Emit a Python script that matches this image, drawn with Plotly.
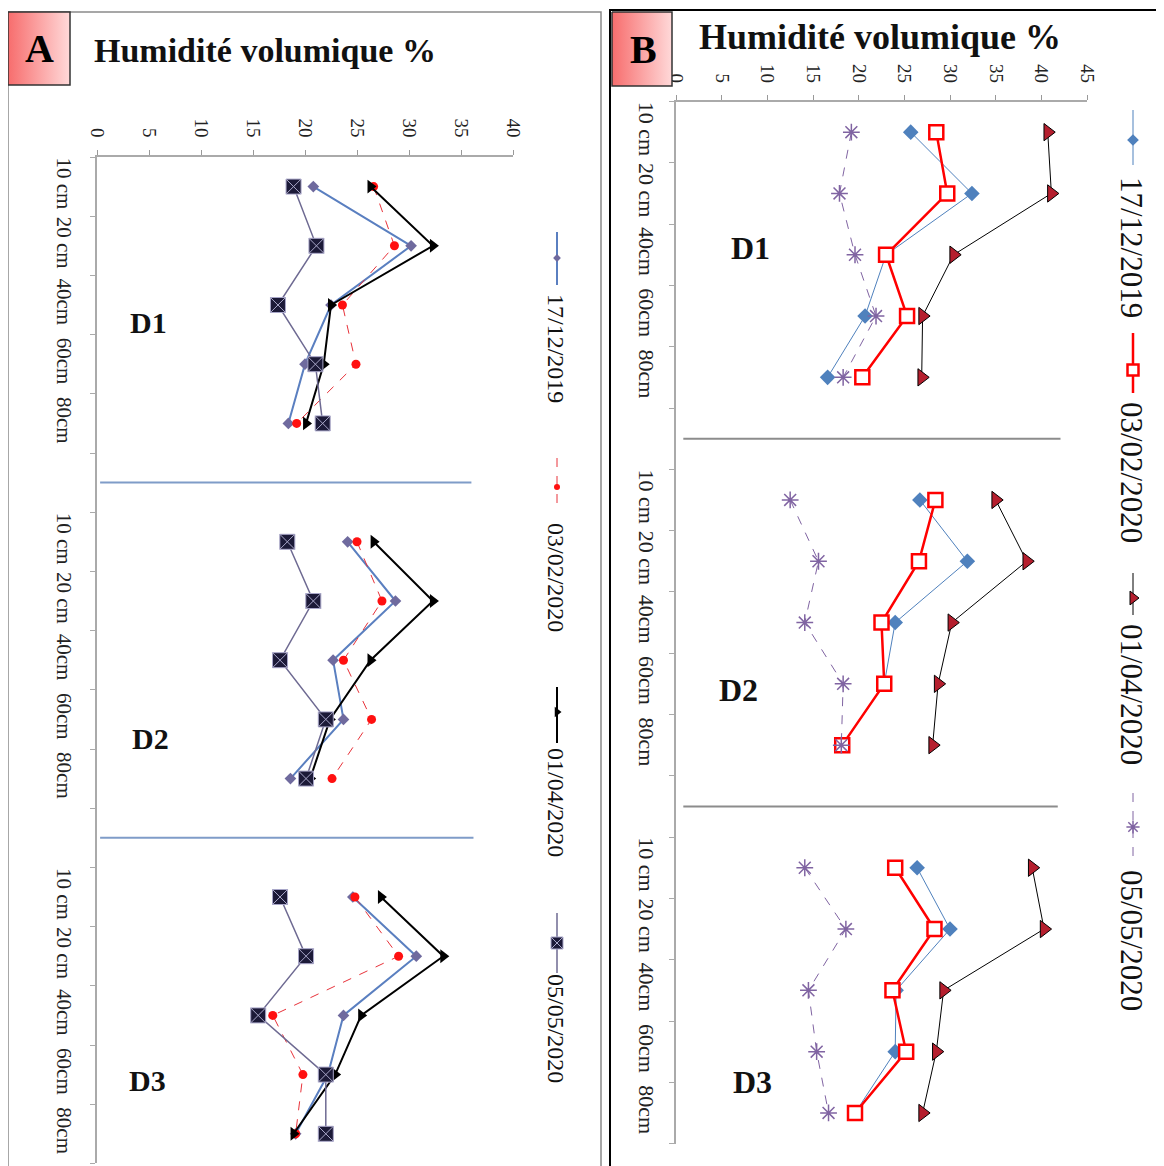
import plotly.graph_objects as go

W, H = 1164, 1166
OFF = 8  # page body margin of the html page: shift the layout so that it lands on the reference pixels
SERIF = "Liberation Serif"

DEPTHS = ["10 cm", "20 cm", "40cm", "60cm", "80cm"]
SITES = ["D1", "D2", "D3"]
DATES = ["17/12/2019", "03/02/2020", "01/04/2020", "05/05/2020"]

# Panel A : humidité volumique (%) — D1 (5 depths), D2 (5 depths), D3 (5 depths)
A_17_12_2019 = [20.8, 30.2, 22.5, 20.0, 18.4, 24.1, 28.7, 22.7, 23.7, 18.6, 24.6, 30.7, 23.7, 22.2, 19.1]
A_03_02_2020 = [26.6, 28.6, 23.6, 24.9, 19.2, 25.0, 27.4, 23.7, 26.4, 22.6, 24.8, 29.0, 16.9, 19.8, 19.1]
A_01_04_2020 = [26.3, 32.3, 22.5, 21.8, 20.1, 26.6, 32.3, 26.3, 22.4, 20.5, 27.3, 33.3, 25.4, 22.9, 18.9]
A_05_05_2020 = [18.9, 21.1, 17.4, 21.0, 21.7, 18.3, 20.8, 17.6, 22.0, 20.1, 17.6, 20.1, 15.5, 22.0, 22.0]

# Panel B
B_17_12_2019 = [25.7, 32.4, 23.0, 20.7, 16.6, 26.7, 31.9, 24.0, 22.8, 18.2, 26.4, 30.0, 24.1, 24.0, 19.6]
B_03_02_2020 = [28.5, 29.7, 23.0, 25.3, 20.4, 28.4, 26.6, 22.5, 22.8, 18.2, 24.0, 28.3, 23.7, 25.2, 19.6]
B_01_04_2020 = [40.7, 41.1, 30.4, 27.0, 26.9, 35.0, 38.4, 30.2, 28.7, 28.1, 39.0, 40.3, 29.3, 28.5, 27.0]
B_05_05_2020 = [19.2, 17.9, 19.6, 21.9, 18.3, 12.5, 15.6, 14.1, 18.3, 18.1, 14.1, 18.6, 14.5, 15.4, 16.7]

# ---- categories (with an empty category between sites) ----
cats = []
for i, s in enumerate(SITES):
    if i:
        cats.append(f"gap{i}")
    cats += [f"{s} {d}" for d in DEPTHS]
ticktext = ["" if c.startswith("gap") else c.split(" ", 1)[1] for c in cats]


def expand(vals):
    out, k = [], 0
    for c in cats:
        if c.startswith("gap"):
            out.append(None)
        else:
            out.append(vals[k])
            k += 1
    return out


def dx(p0, p1):
    return [(p0 - OFF) / W, (p1 - OFF) / W]


def dy(top, bottom):
    return [1 - (bottom - OFF) / H, 1 - (top - OFF) / H]


STYLE_A = {
    "17/12/2019": dict(line=dict(color="#5a7fc0", width=2), marker=dict(symbol="diamond", size=9, color="#6f6a9e")),
    "03/02/2020": dict(line=dict(color="#e8323a", width=1, dash="dash"), marker=dict(symbol="circle", size=9, color="#ff1010")),
    "01/04/2020": dict(line=dict(color="#000000", width=2), marker=dict(symbol="triangle-right", size=12, color="#000000")),
    "05/05/2020": dict(line=dict(color="#6e6a92", width=1.5),
                       marker=dict(symbol="square-x", size=15, color="#1c1a38", line=dict(color="#a9a7c9", width=1))),
}
STYLE_B = {
    "17/12/2019": dict(line=dict(color="#4f81bd", width=1), marker=dict(symbol="diamond", size=12, color="#4f81bd")),
    "03/02/2020": dict(line=dict(color="#ff0000", width=2.5),
                       marker=dict(symbol="square", size=14, color="white", line=dict(color="#ff0000", width=2.5))),
    "01/04/2020": dict(line=dict(color="#000000", width=1),
                       marker=dict(symbol="triangle-right", size=15, color="#b51f2e", line=dict(color="#000000", width=1))),
    "05/05/2020": dict(line=dict(color="#8064a2", width=1, dash="dash"),
                       marker=dict(symbol="asterisk-open", size=14, color="#8064a2", line=dict(color="#8064a2", width=1.5))),
}

fig = go.Figure()

A_SERIES = [A_17_12_2019, A_03_02_2020, A_01_04_2020, A_05_05_2020]
B_SERIES = [B_17_12_2019, B_03_02_2020, B_01_04_2020, B_05_05_2020]

for date, vals in zip(DATES, A_SERIES):
    st = STYLE_A[date]
    fig.add_trace(go.Scatter(x=expand(vals), y=cats, mode="lines+markers", name=date,
                             line=st["line"], marker=st["marker"], connectgaps=False,
                             xaxis="x", yaxis="y", showlegend=False))
for date, vals in zip(DATES, B_SERIES):
    st = STYLE_B[date]
    fig.add_trace(go.Scatter(x=expand(vals), y=cats, mode="lines+markers", name=date,
                             line=st["line"], marker=st["marker"], connectgaps=False,
                             xaxis="x2", yaxis="y2", showlegend=False))

# ---- decorations on a page-pixel overlay axis (x3/y3) ----
for (x0, y0, x1, y1) in [(8, 12, 70, 85), (612, 12, 672, 86)]:
    fig.add_trace(go.Scatter(x=[x0, x1, x1, x0, x0], y=[y0, y0, y1, y1, y0], mode="lines",
                             fill="toself",
                             fillgradient=dict(type="horizontal",
                                               colorscale=[[0, "#f76d6d"], [1, "#ffd9d9"]]),
                             line=dict(color="#333333", width=1.5),
                             xaxis="x3", yaxis="y3", showlegend=False, hoverinfo="skip"))

# rotated legend keys
LEG_A = dict(x=557, keys=[(232, 285, 258, 348), (458, 512, 487, 577), (687, 743, 712, 802), (913, 973, 943, 1028)], size=24)
LEG_B = dict(x=1133, keys=[(110, 165, 140, 247), (333, 393, 370, 472), (573, 615, 598, 694), (793, 860, 827, 940)], size=31)

annotations = []
for leg, styles in [(LEG_A, STYLE_A), (LEG_B, STYLE_B)]:
    lx = leg["x"]
    for date, (y0, y1, ym, yt) in zip(DATES, leg["keys"]):
        st = styles[date]
        fig.add_trace(go.Scatter(x=[lx, lx], y=[y0, y1], mode="lines", line=st["line"],
                                 xaxis="x3", yaxis="y3", showlegend=False, hoverinfo="skip"))
        mk = dict(st["marker"])
        mk["size"] = max(mk["size"] - 3, 6)
        fig.add_trace(go.Scatter(x=[lx], y=[ym], mode="markers", marker=mk,
                                 xaxis="x3", yaxis="y3", showlegend=False, hoverinfo="skip"))
        annotations.append(dict(x=lx - 1, y=yt, xref="x3", yref="y3", text=date, showarrow=False,
                                textangle=90, font=dict(family=SERIF, size=leg["size"], color="#111")))

labels = [
    dict(x=39, y=48, text="<b>A</b>", font=dict(family=SERIF, size=40, color="#000")),
    dict(x=643, y=49, text="<b>B</b>", font=dict(family=SERIF, size=40, color="#000")),
    dict(x=265, y=50, text="<b>Humidité volumique %</b>", font=dict(family=SERIF, size=34, color="#111")),
    dict(x=880, y=37, text="<b>Humidité volumique %</b>", font=dict(family=SERIF, size=36, color="#111")),
    dict(x=148, y=322, text="<b>D1</b>", font=dict(family=SERIF, size=30, color="#111")),
    dict(x=150, y=738, text="<b>D2</b>", font=dict(family=SERIF, size=30, color="#111")),
    dict(x=147, y=1080, text="<b>D3</b>", font=dict(family=SERIF, size=30, color="#111")),
    dict(x=750, y=248, text="<b>D1</b>", font=dict(family=SERIF, size=32, color="#111")),
    dict(x=738, y=690, text="<b>D2</b>", font=dict(family=SERIF, size=32, color="#111")),
    dict(x=752, y=1082, text="<b>D3</b>", font=dict(family=SERIF, size=32, color="#111")),
]
for a in labels:
    a.update(xref="x3", yref="y3", showarrow=False)
annotations += labels

shapes = [
    dict(type="rect", xref="x3", yref="y3", x0=8, y0=12, x1=601, y1=1180, line=dict(color="#8a8a8a", width=1.5), layer="below"),
    dict(type="rect", xref="x3", yref="y3", x0=610, y0=10, x1=1180, y1=1180, line=dict(color="#000000", width=2), layer="below"),
    dict(type="line", xref="x", yref="y", x0=0.3, x1=36, y0="gap1", y1="gap1", line=dict(color="#7f9cc8", width=2)),
    dict(type="line", xref="x", yref="y", x0=0.3, x1=36.2, y0="gap2", y1="gap2", line=dict(color="#7f9cc8", width=2)),
    dict(type="line", xref="x2", yref="y2", x0=0.8, x1=42.1, y0="gap1", y1="gap1", line=dict(color="#8c8c8c", width=2)),
    dict(type="line", xref="x2", yref="y2", x0=0.8, x1=41.8, y0="gap2", y1="gap2", line=dict(color="#8c8c8c", width=2)),
]

common_x = dict(side="top", tickmode="linear", tick0=0, dtick=5, tickangle=90, ticks="outside",
                ticklen=5, tickcolor="#999", showline=True, linecolor="#aaaaaa", linewidth=1.5,
                showgrid=False, zeroline=False, automargin=False)
common_y = dict(type="category", categoryorder="array", categoryarray=cats, range=[16.5, -0.5],
                tickmode="array", tickvals=cats, ticktext=ticktext, tickangle=90, tickson="boundaries",
                ticks="outside", ticklen=5, tickcolor="#aaa", showline=True, linecolor="#aaaaaa",
                linewidth=1.5, showgrid=False, zeroline=False, automargin=False)

fig.update_layout(
    template="none",
    width=W, height=H, margin=dict(l=0, r=0, t=0, b=0, pad=0, autoexpand=False),
    paper_bgcolor="white", plot_bgcolor="rgba(0,0,0,0)",
    showlegend=False,
    xaxis=dict(domain=dx(97, 513), range=[0, 40], anchor="y",
               tickfont=dict(family=SERIF, size=19, color="#222"), ticklabelstandoff=6, **common_x),
    yaxis=dict(domain=dy(157, 1163.4), anchor="x",
               tickfont=dict(family=SERIF, size=21, color="#222"), ticklabelstandoff=13, **common_y),
    xaxis2=dict(domain=dx(676, 1087), range=[0, 45], anchor="y2",
                tickfont=dict(family=SERIF, size=19, color="#222"), ticklabelstandoff=5, **common_x),
    yaxis2=dict(domain=dy(101.5, 1143.6), anchor="x2",
                tickfont=dict(family=SERIF, size=22, color="#222"), ticklabelstandoff=9, **common_y),
    xaxis3=dict(domain=[0, 1], range=[OFF, W + OFF], anchor="y3", visible=False, fixedrange=True, automargin=False),
    yaxis3=dict(domain=[0, 1], range=[H + OFF, OFF], anchor="x3", visible=False, fixedrange=True, automargin=False),
    annotations=annotations,
    shapes=shapes,
)

fig.write_html("out.html")
